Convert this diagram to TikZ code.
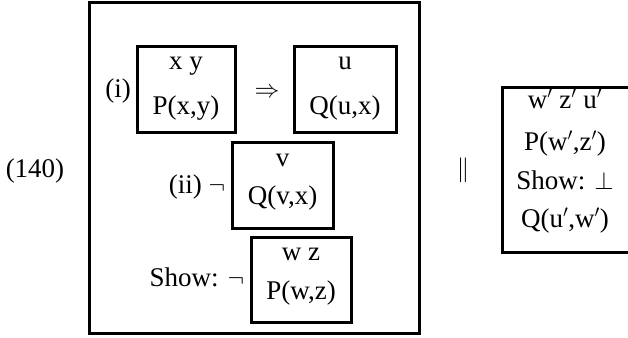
\documentclass[tikz,border=0pt]{standalone}
\usepackage{fontspec}
\setmainfont{Liberation Serif}
\begin{document}
\begin{tikzpicture}[x=1pt,y=-1pt,
  box/.style={draw,line width=3pt,inner sep=0pt},
  txt/.style={inner sep=0pt,anchor=base,font=\fontsize{27}{32}\selectfont}]
\useasboundingbox (0,0) rectangle (628,337);
% outer box
\draw[line width=3pt] (89,3) rectangle (419,333);
% inner boxes
\node[box,minimum width=98pt,minimum height=85pt] (b1) at (186,89.5) {};
\node[box,minimum width=102pt,minimum height=85pt] (b2) at (345,89.5) {};
\node[box,minimum width=101pt,minimum height=86pt] (b3) at (282.5,185) {};
\node[box,minimum width=100pt,minimum height=85pt] (b4) at (301,279.5) {};
\draw[line width=3pt] (640,87) -- (502,87) -- (502,252) -- (640,252);
% texts in boxes
\node[txt] (t1a) at (186,69) {x y};
\node[txt] (t1b) at (186,114) {P(x,y)};
\node[txt] (t2a) at (345,69) {u};
\node[txt] (t2b) at (345,114) {Q(u,x)};
\node[txt] (t3a) at (282.5,166) {v};
\node[txt] (t3b) at (282.5,204) {Q(v,x)};
\node[txt] (t4a) at (301,260) {w z};
\node[txt] (t4b) at (301,299) {P(w,z)};
% labels
\node[txt] (li) at (118,97) {(i)};
\node[txt] (imp) at (267,97) {$\Rightarrow$};
\node[txt] (lii) at (197,193) {(ii) $\neg$};
\node[txt] (show) at (197,286) {Show: $\neg$};
\node[txt] (num) at (35,177) {(140)};
\node[txt] (par) at (463,176) {$\|$};
% right box texts
\node[txt] (r1) at (565,108) {w$'$ z$'$ u$'$};
\node[txt] (r2) at (565,150) {P(w$'$,z$'$)};
\node[txt] (r3) at (565,189) {Show: $\bot$};
\node[txt] (r4) at (565,227) {Q(u$'$,w$'$)};
\end{tikzpicture}
\end{document}
